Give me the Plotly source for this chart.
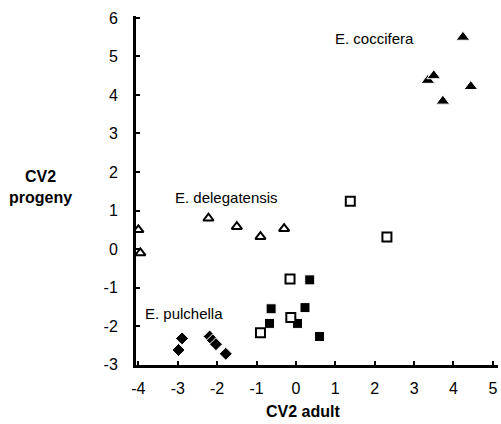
import plotly.graph_objects as go

# E. coccifera (filled triangles)
coc_x = [4.24, 3.35, 3.5, 4.44, 3.73]
coc_y = [5.5, 4.38, 4.5, 4.22, 3.84]
# E. delegatensis (open triangles)
del_x = [-4.0, -3.95, -2.22, -1.5, -0.9, -0.3]
del_y = [0.5, -0.1, 0.8, 0.58, 0.32, 0.53]
# open squares
osq_x = [1.38, 2.31, -0.15, -0.13, -0.9]
osq_y = [1.24, 0.31, -0.78, -1.78, -2.17]
# filled squares
fsq_x = [-0.63, -0.67, 0.23, 0.35, 0.04, 0.6]
fsq_y = [-1.55, -1.93, -1.52, -0.8, -1.93, -2.27]
# E. pulchella (filled diamonds)
dia_x = [-2.89, -2.98, -2.19, -2.11, -2.03, -1.78]
dia_y = [-2.32, -2.62, -2.27, -2.37, -2.47, -2.72]

x_ticks = [-4, -3, -2, -1, 0, 1, 2, 3, 4, 5]
y_ticks = [-3, -2, -1, 0, 1, 2, 3, 4, 5, 6]

labels = ["E. coccifera", "E. delegatensis", "E. pulchella"]
label_x = [0.95, -3.12, -3.88]
label_y = [5.47, 1.35, -1.68]

font = "Liberation Sans, Arial, sans-serif"

fig = go.Figure()
fig.add_trace(go.Scatter(x=fsq_x, y=fsq_y, mode="markers",
                         marker=dict(symbol="square", size=10, color="black",
                                     line=dict(color="white", width=1))))
fig.add_trace(go.Scatter(x=osq_x, y=osq_y, mode="markers",
                         marker=dict(symbol="square", size=9, color="white",
                                     line=dict(color="black", width=2))))
fig.add_trace(go.Scatter(x=del_x, y=del_y, mode="markers",
                         marker=dict(symbol="triangle-up", size=9, color="white",
                                     line=dict(color="black", width=2))))
fig.add_trace(go.Scatter(x=coc_x, y=coc_y, mode="markers",
                         marker=dict(symbol="triangle-up", size=12, color="black",
                                     line=dict(color="white", width=1))))
fig.add_trace(go.Scatter(x=dia_x, y=dia_y, mode="markers",
                         marker=dict(symbol="diamond", size=10, color="black",
                                     line=dict(color="white", width=1))))

for t, lx, ly in zip(labels, label_x, label_y):
    fig.add_annotation(x=lx, y=ly, text=t, showarrow=False, xanchor="left",
                       yanchor="middle", font=dict(family=font, size=15, color="black"))

fig.add_annotation(xref="paper", yref="paper", x=0.46, y=-0.132, text="<b>CV2 adult</b>",
                   showarrow=False, xanchor="center", yanchor="middle",
                   font=dict(family=font, size=16, color="black"))
fig.add_annotation(xref="paper", yref="y", x=-0.265, y=1.62, text="<b>CV2<br>progeny</b>",
                   showarrow=False, xanchor="center", yanchor="middle",
                   font=dict(family=font, size=16, color="black"))

fig.update_layout(
    width=501, height=424,
    margin=dict(l=136, r=3, t=16, b=59),
    paper_bgcolor="white", plot_bgcolor="white",
    showlegend=False,
    font=dict(family=font, size=16, color="black"),
    xaxis=dict(range=[-4.06, 5.13], tickvals=x_ticks, ticktext=[str(v) for v in x_ticks],
               showline=True, linewidth=3, linecolor="black", showgrid=False, zeroline=False,
               ticks="inside", ticklen=4, tickwidth=2, tickcolor="black",
               ticklabelstandoff=7),
    yaxis=dict(range=[-3.01, 6.05], tickvals=y_ticks, ticktext=[str(v) for v in y_ticks],
               showline=True, linewidth=3, linecolor="black", showgrid=False, zeroline=False,
               ticks="inside", ticklen=4, tickwidth=2, tickcolor="black",
               ticklabelstandoff=12),
)

fig.write_html("out.html")
